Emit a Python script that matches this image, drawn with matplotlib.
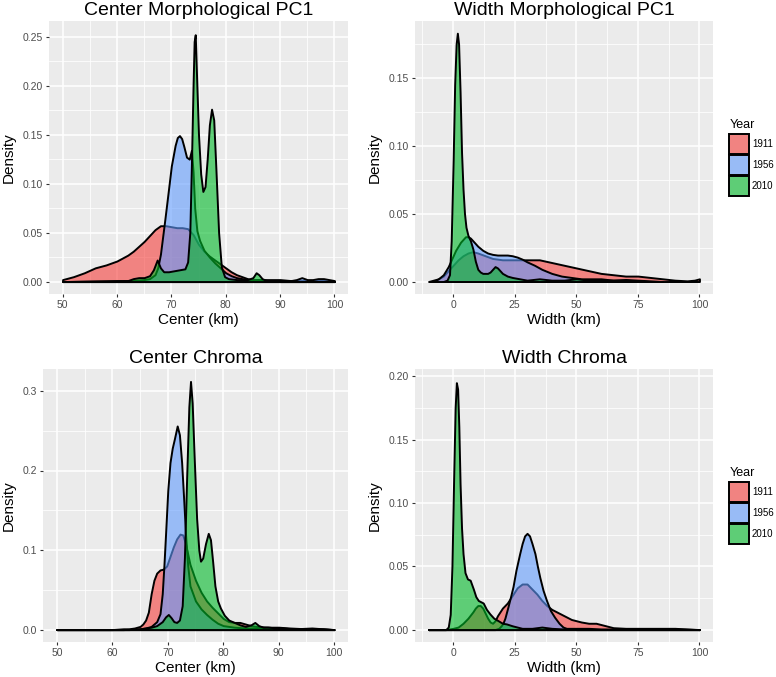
import matplotlib
matplotlib.use("Agg")
import matplotlib.pyplot as plt
from matplotlib.patches import Rectangle
from matplotlib.colors import to_rgba
from matplotlib.ticker import MultipleLocator, FormatStrFormatter

plt.rcParams['font.family'] = ['Liberation Sans', 'DejaVu Sans']

years = ['1911', '1956', '2010']
fills = ['#F63E3A', '#619CFF', '#00BA28']
fill_alpha = 0.6

# --- Center Morphological PC1 ---
a_1911_x = [50, 52, 54, 56, 58, 60, 62, 63, 64, 65, 66, 67, 68, 69, 70, 71, 72, 73, 74, 75, 76, 77, 78, 79,
            80, 81, 82, 83, 84, 85, 86, 88, 90, 92, 95, 98, 100]
a_1911_y = [0.002, 0.005, 0.009, 0.014, 0.017, 0.021, 0.027, 0.031, 0.036, 0.041, 0.047, 0.053, 0.057, 0.057,
            0.056, 0.055, 0.055, 0.054, 0.048, 0.038, 0.031, 0.026, 0.022, 0.018, 0.014, 0.010, 0.007, 0.005,
            0.003, 0.002, 0.002, 0.001, 0.001, 0.001, 0.001, 0.001, 0.000]
a_1956_x = [50, 55, 60, 63, 65, 66, 67, 67.5, 68, 68.8, 69.5, 70, 70.7, 71.1, 71.5, 71.9, 72.3, 72.8, 73.3,
            73.7, 74.0, 74.3, 74.7, 75.2, 76, 77, 78, 79, 80, 81, 82, 84, 86, 88, 90, 92, 93, 94, 95, 96, 97,
            98, 99, 100]
a_1956_y = [0, 0.0005, 0.001, 0.001, 0.002, 0.003, 0.007, 0.014, 0.028, 0.063, 0.095, 0.118, 0.139, 0.147,
            0.149, 0.146, 0.138, 0.127, 0.125, 0.134, 0.112, 0.075, 0.052, 0.042, 0.032, 0.025, 0.019, 0.014,
            0.009, 0.006, 0.004, 0.002, 0.002, 0.002, 0.002, 0.001, 0.002, 0.004, 0.002, 0.002, 0.003, 0.003,
            0.002, 0.001]
a_2010_x = [50, 58, 62, 63, 64, 65, 66, 66.7, 67.4, 68.0, 68.6, 69.5, 70.5, 71.5, 72.5, 73.0, 73.4, 73.7,
            74.0, 74.2, 74.4, 74.7, 75.0, 75.4, 75.8, 76.2, 76.6, 77.0, 77.4, 77.8, 78.2, 78.7, 79.2, 79.8,
            80.5, 82, 84, 85, 85.6, 86.1, 86.7, 87.5, 90, 100]
a_2010_y = [0, 0.0005, 0.001, 0.003, 0.004, 0.004, 0.006, 0.012, 0.022, 0.014, 0.010, 0.010, 0.011, 0.012,
            0.013, 0.020, 0.050, 0.120, 0.200, 0.245, 0.252, 0.200, 0.150, 0.110, 0.092, 0.097, 0.125, 0.160,
            0.176, 0.165, 0.115, 0.050, 0.015, 0.005, 0.003, 0.002, 0.002, 0.004, 0.009, 0.007, 0.003, 0.001,
            0, 0]

# --- Width Morphological PC1 ---
b_1911_x = [-10, -8, -6, -4, -2, 0, 2, 4, 6, 8, 10, 13, 16, 20, 25, 30, 35, 40, 45, 50, 55, 60, 65, 70, 75,
            80, 85, 90, 95, 98, 100]
b_1911_y = [0, 0.001, 0.002, 0.004, 0.008, 0.012, 0.016, 0.019, 0.021, 0.022, 0.021, 0.019, 0.017, 0.016,
            0.016, 0.016, 0.016, 0.014, 0.012, 0.010, 0.008, 0.006, 0.005, 0.004, 0.004, 0.003, 0.002, 0.001,
            0.0005, 0.001, 0.002]
b_1956_x = [-8, -6, -4, -2, -1, 0, 1, 2, 3, 4, 5, 6, 7, 8, 10, 12, 14, 16, 18, 20, 22, 24, 26, 28, 30, 33,
            36, 40, 44, 48, 52, 56, 60, 65, 70, 75, 80, 85]
b_1956_y = [0, 0.002, 0.005, 0.011, 0.015, 0.019, 0.023, 0.026, 0.029, 0.031, 0.033, 0.033, 0.032, 0.030,
            0.026, 0.023, 0.021, 0.020, 0.0195, 0.0195, 0.0195, 0.019, 0.018, 0.0165, 0.0145, 0.012, 0.009,
            0.006, 0.004, 0.003, 0.002, 0.002, 0.002, 0.001, 0.0015, 0.001, 0.0005, 0]
b_2010_x = [-4, -2.5, -1.5, -0.8, 0, 0.6, 1.2, 1.7, 2.2, 2.8, 3.4, 4, 4.6, 5.2, 6, 7, 8, 9, 10, 11, 12, 13,
            14, 15, 16, 17, 18, 19, 20, 22, 24, 27, 30, 35, 40, 45, 50, 55, 60, 70, 80]
b_2010_y = [0, 0.001, 0.005, 0.03, 0.09, 0.145, 0.175, 0.183, 0.175, 0.14, 0.095, 0.068, 0.050, 0.040,
            0.034, 0.030, 0.024, 0.015, 0.009, 0.007, 0.006, 0.006, 0.006, 0.007, 0.009, 0.011, 0.010, 0.008,
            0.006, 0.004, 0.003, 0.002, 0.001, 0.002, 0.001, 0.001, 0.002, 0.001, 0.001, 0.001, 0]

# --- Center Chroma ---
c_1911_x = [50, 60, 62, 63, 64, 65, 65.5, 66, 66.5, 67, 67.5, 68, 68.6, 69.2, 69.8, 70.4, 71, 71.6, 72.2,
            72.7, 73.2, 74, 75, 76, 77, 78, 79, 80, 81, 82, 83, 84, 85, 86, 88, 90, 92, 95, 98, 100]
c_1911_y = [0, 0, 0.001, 0.001, 0.002, 0.004, 0.007, 0.012, 0.022, 0.045, 0.062, 0.071, 0.075, 0.076, 0.080,
            0.092, 0.104, 0.114, 0.120, 0.119, 0.108, 0.082, 0.062, 0.047, 0.036, 0.028, 0.021, 0.014, 0.010,
            0.009, 0.009, 0.007, 0.005, 0.004, 0.003, 0.003, 0.002, 0.001, 0.001, 0]
c_1956_x = [50, 62, 65, 66, 67, 68, 68.6, 69.0, 69.3, 69.6, 70.0, 70.4, 70.8, 71.2, 71.7, 72.1, 72.5, 72.9,
            73.2, 73.6, 74, 75, 76, 77, 78, 79, 80, 82, 84, 86, 88, 90, 93, 96, 100]
c_1956_y = [0, 0, 0.001, 0.002, 0.004, 0.01, 0.02, 0.045, 0.08, 0.12, 0.175, 0.21, 0.228, 0.240, 0.256,
            0.245, 0.21, 0.16, 0.12, 0.08, 0.055, 0.036, 0.026, 0.019, 0.013, 0.008, 0.005, 0.003, 0.002,
            0.002, 0.003, 0.002, 0.001, 0.002, 0]
c_2010_x = [50, 63, 65, 67, 68, 69, 69.6, 70.1, 70.6, 71.1, 71.6, 72.1, 72.6, 73.0, 73.4, 73.8, 74.1, 74.4,
            74.8, 75.2, 75.6, 75.9, 76.3, 76.8, 77.3, 77.7, 78.1, 78.5, 79.0, 79.5, 80.2, 81, 82, 83, 84, 85,
            85.7, 86.4, 87.2, 88, 90, 93, 96, 100]
c_2010_y = [0, 0, 0.001, 0.003, 0.005, 0.010, 0.016, 0.019, 0.015, 0.010, 0.009, 0.012, 0.030, 0.090, 0.190,
            0.280, 0.312, 0.285, 0.210, 0.140, 0.100, 0.086, 0.090, 0.108, 0.121, 0.113, 0.085, 0.055, 0.036,
            0.027, 0.018, 0.012, 0.009, 0.006, 0.004, 0.006, 0.009, 0.005, 0.003, 0.003, 0.002, 0.001, 0.001, 0]

# --- Width Chroma ---
d_1911_x = [-10, -3, 0, 2, 4, 6, 8, 9, 10, 11, 12, 13, 14, 15, 16, 17, 18, 19, 20, 22, 24, 26, 28, 30, 32,
            34, 36, 38, 40, 42, 44, 46, 48, 50, 52, 55, 58, 60, 62, 65, 70, 75, 80, 85, 90, 95, 100]
d_1911_y = [0, 0, 0.001, 0.002, 0.005, 0.009, 0.014, 0.017, 0.019, 0.019, 0.017, 0.013, 0.009, 0.006, 0.005,
            0.007, 0.011, 0.014, 0.017, 0.021, 0.027, 0.033, 0.036, 0.036, 0.032, 0.028, 0.023, 0.019, 0.016,
            0.014, 0.012, 0.010, 0.008, 0.007, 0.006, 0.005, 0.005, 0.004, 0.003, 0.0015, 0.001, 0.001, 0.001,
            0.001, 0.001, 0.0005, 0]
d_1956_x = [-10, 17, 18.5, 19.5, 20.2, 21, 22.2, 23.3, 24.3, 25.5, 27, 28, 29, 30, 31, 32, 33.2, 34.2, 35.2,
            36.5, 37.9, 39.5, 41.2, 43, 44.6, 46, 50, 55, 60, 70, 80, 90, 100]
d_1956_y = [0, 0, 0.001, 0.003, 0.005, 0.009, 0.0176, 0.026, 0.034, 0.047, 0.060, 0.068, 0.074, 0.076, 0.074,
            0.068, 0.060, 0.050, 0.041, 0.031, 0.023, 0.015, 0.0097, 0.005, 0.002, 0.001, 0.001, 0.001, 0.0005,
            0.0005, 0.0005, 0.0005, 0]
d_2010_x = [-10, -3, -2, -1.2, -0.5, 0.2, 0.8, 1.3, 1.8, 2.3, 2.8, 3.4, 4, 4.8, 5.8, 6.9, 8.2, 9.2, 10.2,
            11.2, 12.2, 13.5, 14.9, 16.5, 18.3, 20, 21.6, 24, 28, 32, 36, 40, 45, 50, 100]
d_2010_y = [0, 0, 0.002, 0.012, 0.05, 0.12, 0.175, 0.195, 0.190, 0.160, 0.115, 0.080, 0.060, 0.045, 0.040,
            0.039, 0.032, 0.026, 0.023, 0.022, 0.021, 0.016, 0.0124, 0.009, 0.007, 0.005, 0.0045, 0.003, 0.001,
            0.001, 0.002, 0.001, 0.0005, 0, 0]

# title, x label, series, panel box in pixels (l, t, r, b), xlim, x step, ylim, y step, y format, legend
panels = [
    ("Center Morphological PC1", "Center (km)", [(a_1911_x, a_1911_y), (a_1956_x, a_1956_y), (a_2010_x, a_2010_y)],
     [49, 21, 348, 294], (47.5, 102.5), 10, (-0.0127, 0.266), 0.05, '%.2f', False),
    ("Width Morphological PC1", "Width (km)", [(b_1911_x, b_1911_y), (b_1956_x, b_1956_y), (b_2010_x, b_2010_y)],
     [415, 21, 713, 294], (-15.5, 105.5), 25, (-0.0092, 0.192), 0.05, '%.2f', True),
    ("Center Chroma", "Center (km)", [(c_1911_x, c_1911_y), (c_1956_x, c_1956_y), (c_2010_x, c_2010_y)],
     [43, 369, 348, 642], (47.5, 102.5), 10, (-0.0156, 0.3276), 0.1, '%.1f', False),
    ("Width Chroma", "Width (km)", [(d_1911_x, d_1911_y), (d_1956_x, d_1956_y), (d_2010_x, d_2010_y)],
     [415, 369, 713, 642], (-15.5, 105.5), 25, (-0.0098, 0.2058), 0.05, '%.2f', True),
]

W, H = 776, 677
fig = plt.figure(figsize=(W / 100, H / 100), dpi=100)


def px_box(x, y, w, h):
    # pixel box (top-left origin) to figure fraction
    return (x / W, 1 - (y + h) / H), w / W, h / H


for title, xlab, series, box, xlim, xstep, ylim, ystep, yfmt, has_legend in panels:
    l, t, r, b = box
    ax = fig.add_axes([l / W, 1 - b / H, (r - l) / W, (b - t) / H])
    ax.set_facecolor('#EBEBEB')
    for sp in ax.spines.values():
        sp.set_visible(False)
    ax.xaxis.set_major_locator(MultipleLocator(xstep))
    ax.xaxis.set_minor_locator(MultipleLocator(xstep / 2))
    ax.yaxis.set_major_locator(MultipleLocator(ystep))
    ax.yaxis.set_minor_locator(MultipleLocator(ystep / 2))
    ax.yaxis.set_major_formatter(FormatStrFormatter(yfmt))
    ax.grid(which='major', color='white', lw=1.1)
    ax.grid(which='minor', color='white', lw=0.55)
    ax.set_axisbelow(True)
    ax.tick_params(which='major', length=2.5, width=0.8, color='#333333', labelsize=7.5,
                   labelcolor='#4D4D4D', pad=2)
    ax.tick_params(which='minor', length=0)

    for (xs, ys), col in zip(series, fills):
        ax.fill_between(xs, ys, 0, facecolor=to_rgba(col, fill_alpha), edgecolor='black', lw=1.4)

    ax.set_xlim(*xlim)
    ax.set_ylim(*ylim)
    ax.set_title(title, fontsize=14, pad=4)
    ax.set_xlabel(xlab, fontsize=11, labelpad=2)
    ax.set_ylabel('Density', fontsize=11, labelpad=5)

    if has_legend:
        # legend drawn by hand, as in ggplot: title, then stacked square keys
        kx = 729
        ky = t + 113
        fig.text((kx + 1) / W, 1 - (ky - 6) / H, 'Year', fontsize=9, va='baseline', ha='left')
        for i, (yr, col) in enumerate(zip(years, fills)):
            y0 = ky + i * 21
            (fx, fy), fw, fh = px_box(kx, y0, 20, 20)
            fig.add_artist(Rectangle((fx, fy), fw, fh, transform=fig.transFigure,
                                     facecolor='#EBEBEB', edgecolor='none'))
            fig.add_artist(Rectangle((fx, fy), fw, fh, transform=fig.transFigure,
                                     facecolor=to_rgba(col, fill_alpha), edgecolor='black', lw=1.4))
            fig.text((kx + 23) / W, 1 - (y0 + 10) / H, yr, fontsize=7, va='center', ha='left')

fig.savefig('out.png', dpi=100)
